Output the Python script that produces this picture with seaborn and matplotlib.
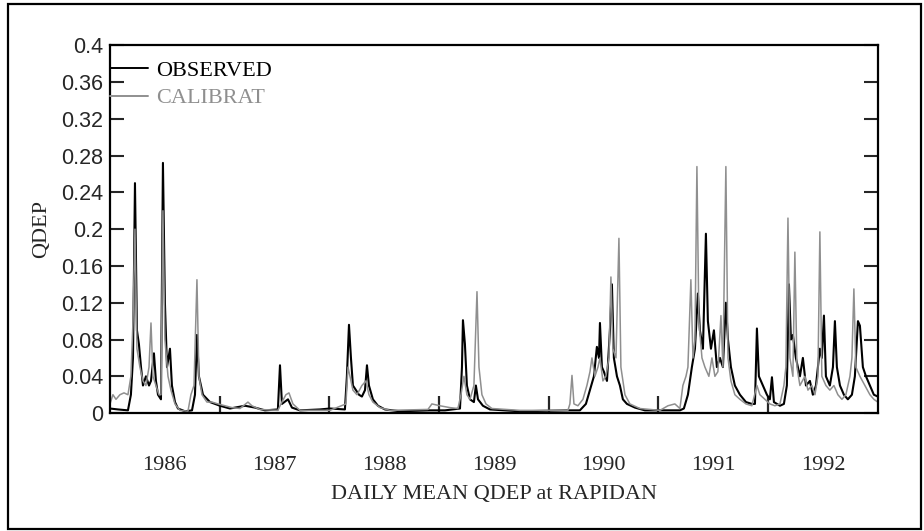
import matplotlib
matplotlib.use("Agg")
import matplotlib.pyplot as plt
from matplotlib.patches import Rectangle
import pandas as pd
import seaborn as sns

# daily mean QDEP (decimal year, qdep)
obs_year = [1986.000, 1986.073, 1986.164, 1986.191, 1986.210, 1986.228, 1986.246, 1986.264,
            1986.283, 1986.301, 1986.328, 1986.356, 1986.374, 1986.401, 1986.419, 1986.438,
            1986.465, 1986.483, 1986.501, 1986.520, 1986.547, 1986.565, 1986.593, 1986.620,
            1986.684, 1986.748, 1986.775, 1986.793, 1986.811, 1986.848, 1986.912, 1987.003,
            1987.094, 1987.231, 1987.322, 1987.413, 1987.531, 1987.550, 1987.568, 1987.623,
            1987.659, 1987.732, 1987.914, 1988.005, 1988.142, 1988.160, 1988.179, 1988.197,
            1988.215, 1988.242, 1988.270, 1988.297, 1988.325, 1988.343, 1988.361, 1988.397,
            1988.443, 1988.507, 1988.644, 1988.917, 1989.054, 1989.191, 1989.209, 1989.218,
            1989.236, 1989.254, 1989.282, 1989.318, 1989.336, 1989.355, 1989.400, 1989.464,
            1989.737, 1990.193, 1990.284, 1990.339, 1990.376, 1990.412, 1990.439, 1990.458,
            1990.467, 1990.485, 1990.503, 1990.531, 1990.558, 1990.576, 1990.594, 1990.622,
            1990.649, 1990.676, 1990.713, 1990.786, 1990.877, 1991.196, 1991.232, 1991.269,
            1991.305, 1991.333, 1991.360, 1991.378, 1991.406, 1991.433, 1991.451, 1991.479,
            1991.506, 1991.533, 1991.561, 1991.588, 1991.615, 1991.634, 1991.661, 1991.697,
            1991.743, 1991.798, 1991.852, 1991.880, 1991.898, 1991.916, 1991.953, 1991.989,
            1992.016, 1992.035, 1992.053, 1992.108, 1992.144, 1992.171, 1992.190, 1992.208,
            1992.226, 1992.253, 1992.290, 1992.317, 1992.345, 1992.381, 1992.408, 1992.436,
            1992.472, 1992.490, 1992.509, 1992.527, 1992.563, 1992.591, 1992.609, 1992.627,
            1992.655, 1992.691, 1992.727, 1992.764, 1992.791, 1992.819, 1992.837, 1992.864,
            1992.892, 1992.928, 1992.964, 1993.000]
obs_qdep = [0.005, 0.004, 0.003, 0.02, 0.06, 0.25, 0.09, 0.075,
            0.05, 0.03, 0.04, 0.03, 0.035, 0.065, 0.035, 0.02,
            0.015, 0.272, 0.12, 0.05, 0.07, 0.03, 0.012, 0.005,
            0.002, 0.003, 0.02, 0.085, 0.04, 0.02, 0.012, 0.008,
            0.005, 0.008, 0.006, 0.003, 0.004, 0.052, 0.01, 0.015,
            0.006, 0.003, 0.004, 0.005, 0.004, 0.04, 0.096, 0.06,
            0.03, 0.025, 0.02, 0.018, 0.025, 0.052, 0.03, 0.015,
            0.008, 0.004, 0.002, 0.003, 0.003, 0.005, 0.05, 0.101,
            0.075, 0.03, 0.015, 0.012, 0.03, 0.015, 0.008, 0.004,
            0.002, 0.003, 0.003, 0.01, 0.025, 0.04, 0.072, 0.06,
            0.098, 0.05, 0.045, 0.035, 0.09, 0.14, 0.06, 0.04,
            0.03, 0.015, 0.01, 0.006, 0.003, 0.003, 0.005, 0.02,
            0.05, 0.07, 0.13, 0.09, 0.07, 0.195, 0.1, 0.07,
            0.09, 0.05, 0.06, 0.05, 0.12, 0.08, 0.05, 0.03,
            0.02, 0.012, 0.01, 0.01, 0.092, 0.04, 0.03, 0.02,
            0.015, 0.039, 0.012, 0.008, 0.01, 0.03, 0.14, 0.08,
            0.085, 0.06, 0.04, 0.06, 0.03, 0.035, 0.02, 0.03,
            0.07, 0.06, 0.106, 0.04, 0.03, 0.05, 0.1, 0.05,
            0.03, 0.02, 0.015, 0.02, 0.04, 0.1, 0.095, 0.05,
            0.04, 0.03, 0.02, 0.018]

cal_year = [1986.000, 1986.027, 1986.055, 1986.091, 1986.128, 1986.164, 1986.191, 1986.210,
            1986.228, 1986.246, 1986.273, 1986.301, 1986.328, 1986.356, 1986.374, 1986.392,
            1986.419, 1986.447, 1986.465, 1986.483, 1986.501, 1986.529, 1986.556, 1986.593,
            1986.638, 1986.711, 1986.738, 1986.766, 1986.793, 1986.811, 1986.839, 1986.884,
            1986.930, 1986.985, 1987.048, 1987.112, 1987.185, 1987.258, 1987.294, 1987.367,
            1987.531, 1987.559, 1987.604, 1987.632, 1987.668, 1987.732, 1988.005, 1988.151,
            1988.170, 1988.188, 1988.215, 1988.252, 1988.297, 1988.334, 1988.361, 1988.397,
            1988.461, 1988.552, 1988.899, 1988.935, 1989.008, 1989.099, 1989.172, 1989.200,
            1989.227, 1989.254, 1989.282, 1989.318, 1989.346, 1989.364, 1989.391, 1989.428,
            1989.482, 1989.737, 1990.175, 1990.193, 1990.212, 1990.230, 1990.266, 1990.312,
            1990.348, 1990.376, 1990.394, 1990.421, 1990.449, 1990.467, 1990.494, 1990.521,
            1990.549, 1990.567, 1990.585, 1990.613, 1990.640, 1990.658, 1990.695, 1990.740,
            1990.831, 1991.014, 1991.087, 1991.150, 1991.196, 1991.223, 1991.251, 1991.269,
            1991.296, 1991.315, 1991.333, 1991.351, 1991.369, 1991.397, 1991.424, 1991.460,
            1991.488, 1991.515, 1991.542, 1991.570, 1991.588, 1991.615, 1991.634, 1991.661,
            1991.697, 1991.743, 1991.798, 1991.852, 1991.898, 1991.925, 1991.971, 1992.016,
            1992.062, 1992.108, 1992.144, 1992.162, 1992.181, 1992.199, 1992.226, 1992.244,
            1992.263, 1992.290, 1992.335, 1992.363, 1992.399, 1992.427, 1992.454, 1992.472,
            1992.490, 1992.527, 1992.563, 1992.600, 1992.636, 1992.673, 1992.709, 1992.746,
            1992.764, 1992.782, 1992.800, 1992.837, 1992.882, 1992.928, 1992.964, 1993.000]
cal_qdep = [0.01, 0.02, 0.015, 0.02, 0.022, 0.02, 0.04, 0.1,
            0.2, 0.07, 0.05, 0.035, 0.03, 0.05, 0.098, 0.04,
            0.03, 0.02, 0.02, 0.22, 0.08, 0.04, 0.025, 0.01,
            0.003, 0.002, 0.02, 0.03, 0.145, 0.04, 0.02, 0.012,
            0.012, 0.01, 0.008, 0.006, 0.005, 0.012, 0.008, 0.004,
            0.003, 0.01, 0.02, 0.022, 0.01, 0.003, 0.003, 0.01,
            0.05, 0.04, 0.025, 0.02, 0.03, 0.035, 0.02, 0.012,
            0.006, 0.003, 0.004, 0.01, 0.008, 0.006, 0.005, 0.02,
            0.04, 0.02, 0.015, 0.03, 0.132, 0.05, 0.02, 0.01,
            0.005, 0.003, 0.003, 0.01, 0.041, 0.01, 0.008, 0.015,
            0.03, 0.045, 0.06, 0.04, 0.05, 0.06, 0.035, 0.04,
            0.06, 0.148, 0.07, 0.06, 0.19, 0.05, 0.02, 0.01,
            0.005, 0.003, 0.008, 0.01, 0.005, 0.03, 0.04, 0.05,
            0.145, 0.06, 0.08, 0.268, 0.1, 0.06, 0.05, 0.04,
            0.06, 0.04, 0.045, 0.106, 0.05, 0.268, 0.06, 0.035,
            0.02, 0.015, 0.01, 0.008, 0.03, 0.02, 0.015, 0.01,
            0.008, 0.01, 0.03, 0.05, 0.212, 0.06, 0.04, 0.175,
            0.05, 0.03, 0.04, 0.025, 0.03, 0.02, 0.04, 0.197,
            0.04, 0.03, 0.025, 0.03, 0.02, 0.015, 0.02, 0.04,
            0.06, 0.135, 0.05, 0.04, 0.03, 0.02, 0.015, 0.012]

series_names = ["OBSERVED", "CALIBRAT"]
series_colors = ["black", "#8f8f8f"]
year_labels = ["1986", "1987", "1988", "1989", "1990", "1991", "1992"]
y_ticks = [0, 0.04, 0.08, 0.12, 0.16, 0.2, 0.24, 0.28, 0.32, 0.36, 0.4]
y_labels = ["0", "0.04", "0.08", "0.12", "0.16", "0.2", "0.24", "0.28", "0.32", "0.36", "0.4"]

df = pd.concat([
    pd.DataFrame({"year": obs_year, "qdep": obs_qdep, "series": series_names[0]}),
    pd.DataFrame({"year": cal_year, "qdep": cal_qdep, "series": series_names[1]}),
])

sns.set_style("white")
plt.rcParams["font.family"] = ["Liberation Serif", "DejaVu Serif"]

fig = plt.figure(figsize=(9.24, 5.31), dpi=100)
ax = fig.add_axes([0.119, 0.222, 0.831, 0.693])

sns.lineplot(data=df, x="year", y="qdep", hue="series", hue_order=series_names,
             palette=dict(zip(series_names, series_colors)), estimator=None,
             sort=False, linewidth=1.4, ax=ax)
for line, lw in zip(ax.lines, [1.5, 1.1]):
    line.set_linewidth(lw)

ax.set_xlim(1986, 1993)
ax.set_ylim(0, 0.4)

# year boundaries as inward ticks, year names centred between them
ax.set_xticks(list(range(1987, 1993)))
ax.set_xticklabels([""] * 6)
ax.set_xticks([int(y) + 0.5 for y in year_labels], minor=True)
ax.set_xticklabels(year_labels, minor=True, fontsize=16)
ax.tick_params(axis="x", which="major", direction="in", length=12, width=1.6, bottom=True, top=False)
ax.tick_params(axis="x", which="minor", length=0, pad=31)

ax.set_yticks(y_ticks)
ax.set_yticklabels(y_labels, family=["Liberation Sans", "DejaVu Sans"], fontsize=15.5)
ax.tick_params(axis="y", direction="in", length=10, width=1.5, left=True, right=True, pad=5)

for sp in ax.spines.values():
    sp.set_linewidth(1.6)
    sp.set_color("black")

ax.set_xlabel("DAILY MEAN QDEP at RAPIDAN", fontsize=16)
ax.xaxis.set_label_coords(0.5, -0.196)
ax.set_ylabel("QDEP", fontsize=16)
ax.yaxis.set_label_coords(-0.076, 0.5)

leg = ax.legend(loc="upper left", frameon=False, fontsize=16, borderaxespad=0.0,
                borderpad=0.0, handlelength=1.7, handletextpad=0.4, labelspacing=0.3,
                labelcolor="linecolor", bbox_to_anchor=(0.0, 0.958))

# outer frame around the whole picture
fig.patches.append(Rectangle((0.0087, 0.0038), 0.988, 0.989, transform=fig.transFigure,
                             fill=False, edgecolor="black", linewidth=1.6))

fig.savefig("out.png", dpi=100)
